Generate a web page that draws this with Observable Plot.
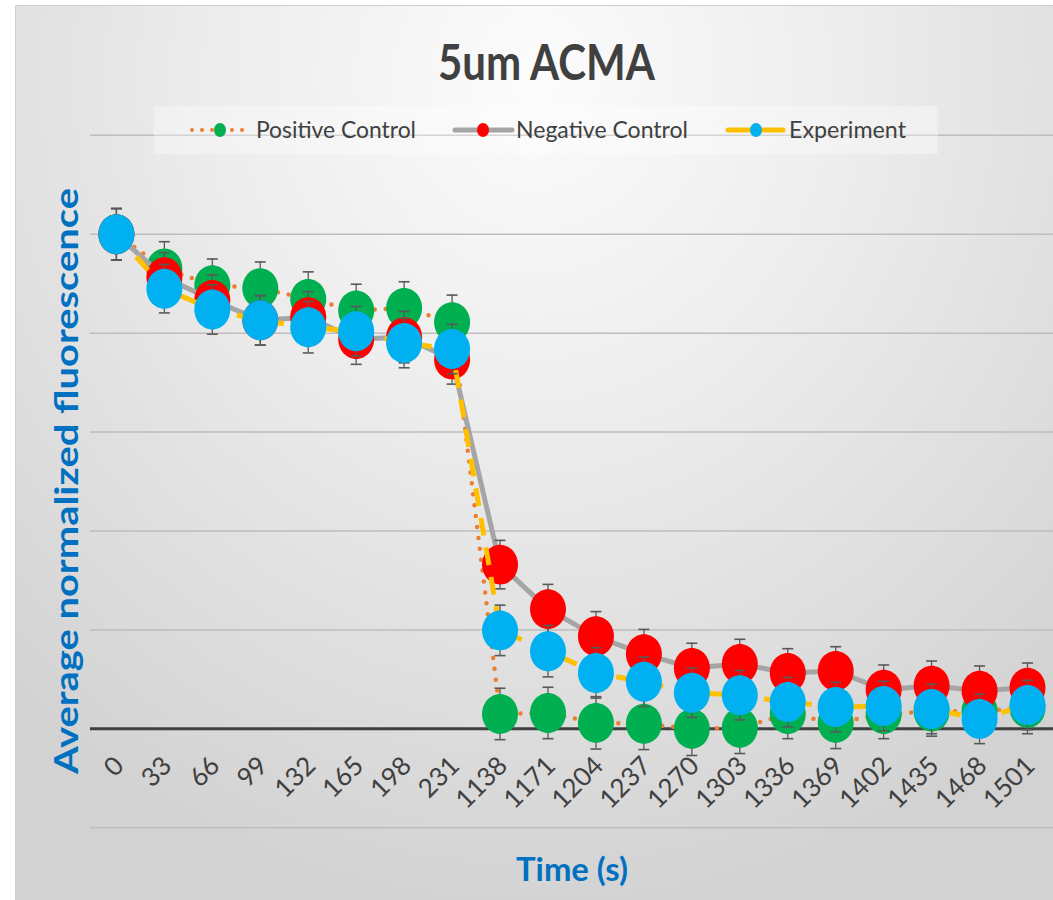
<!DOCTYPE html>
<html>
<head>
<meta charset="utf-8">
<script src="https://cdn.jsdelivr.net/npm/d3@7"></script>
<script src="https://cdn.jsdelivr.net/npm/@observablehq/plot@0.6"></script>
<style>
  html, body { margin: 0; padding: 0; background: #ffffff; }
  body { width: 1053px; height: 900px; position: relative; overflow: hidden; font-family: Lato, "Open Sans", sans-serif; }
  #frame {
    position: absolute; left: 15px; top: 5px; width: 1038px; height: 895px; overflow: hidden;
    background: radial-gradient(ellipse 75% 95% at 50% 8%, #fcfcfc 0%, #ededed 40%, #d2d2d2 100%);
    border-left: 1px solid #cfcfcf; border-top: 1px solid #cfcfcf; box-sizing: border-box;
  }
  #chart { position: absolute; left: 0; top: 0; }
  #overlay { position: absolute; left: 0; top: 0; pointer-events: none; }
</style>
</head>
<body>
<div id="frame">
  <div id="chart"></div>
  <svg id="overlay" width="1038" height="895"></svg>
</div>
<script>
// ---- data ----
const times = [0, 33, 66, 99, 132, 165, 198, 231, 1138, 1171, 1204, 1237, 1270, 1303, 1336, 1369, 1402, 1435, 1468, 1501];
const positiveControl = [1.000, 0.931, 0.897, 0.891, 0.869, 0.846, 0.851, 0.822, 0.030, 0.032, 0.012, 0.010, 0.000, 0.002, 0.030, 0.012, 0.030, 0.035, 0.036, 0.042];
const negativeControl = [1.000, 0.913, 0.867, 0.826, 0.832, 0.788, 0.792, 0.747, 0.332, 0.242, 0.187, 0.151, 0.123, 0.131, 0.113, 0.117, 0.079, 0.087, 0.077, 0.083];
const experiment      = [1.000, 0.890, 0.848, 0.826, 0.812, 0.804, 0.780, 0.768, 0.199, 0.157, 0.113, 0.095, 0.073, 0.068, 0.054, 0.044, 0.046, 0.040, 0.020, 0.048];
const positiveErr = [0.052, 0.054, 0.053, 0.053, 0.055, 0.053, 0.053, 0.055, 0.052, 0.052, 0.053, 0.052, 0.054, 0.052, 0.050, 0.052, 0.050, 0.050, 0.050, 0.052];
const negativeErr = [0.052, 0.050, 0.051, 0.050, 0.052, 0.051, 0.052, 0.050, 0.049, 0.050, 0.050, 0.050, 0.050, 0.050, 0.049, 0.049, 0.050, 0.050, 0.050, 0.050];
const experimentErr = [0.052, 0.049, 0.050, 0.050, 0.052, 0.050, 0.050, 0.050, 0.051, 0.052, 0.051, 0.050, 0.050, 0.050, 0.050, 0.050, 0.050, 0.050, 0.050, 0.050];
const gridValues = [-0.2, 0.2, 0.4, 0.6, 0.8, 1.0, 1.2];
const seriesNames = ["Positive Control", "Negative Control", "Experiment"];
const titleText = "5um ACMA";
const yTitle = "Average normalized fluorescence";
const xTitle = "Time (s)";

// ---- styles ----
const seriesStyles = [
  {marker: "#00B050", line: "#ED7D31", width: 4.5, dash: "0 11", cap: "round"},
  {marker: "#FF0000", line: "#A5A5A5", width: 5, dash: null, cap: "round"},
  {marker: "#00B0F0", line: "#FFC000", width: 5, dash: "18 12", cap: "butt"}
];
const seriesValues = [positiveControl, negativeControl, experiment];
const seriesErrs = [positiveErr, negativeErr, experimentErr];

// ellipse marker (the reference is stretched vertically)
const ellipse = {
  draw(ctx) {
    const rx = 18, ry = 20, k = 0.5523;
    ctx.moveTo(rx, 0);
    ctx.bezierCurveTo(rx, ry * k, rx * k, ry, 0, ry);
    ctx.bezierCurveTo(-rx * k, ry, -rx, ry * k, -rx, 0);
    ctx.bezierCurveTo(-rx, -ry * k, -rx * k, -ry, 0, -ry);
    ctx.bezierCurveTo(rx * k, -ry, rx, -ry * k, rx, 0);
    ctx.closePath();
  }
};
const capSymbol = {
  draw(ctx) { ctx.moveTo(-5.5, 0); ctx.lineTo(5.5, 0); }
};

const labels = times.map(String);
const marks = [
  Plot.ruleY(gridValues, {stroke: "#bdbdbd", strokeWidth: 1.5}),
  Plot.ruleY([0], {stroke: "#404040", strokeWidth: 3})
];

seriesValues.forEach((vals, s) => {
  const st = seriesStyles[s];
  const rows = labels.map((t, i) => ({t, v: vals[i], e: seriesErrs[s][i]}));
  marks.push(
    Plot.line(rows, {x: "t", y: "v", stroke: st.line, strokeWidth: st.width,
      strokeDasharray: st.dash, strokeLinecap: st.cap, strokeLinejoin: "round"}),
    Plot.ruleX(rows, {x: "t", y1: d => d.v - d.e, y2: d => d.v + d.e, stroke: "#595959", strokeWidth: 1.3}),
    Plot.dot(rows, {x: "t", y: d => d.v + d.e, symbol: capSymbol, r: 5, fill: "none", stroke: "#595959", strokeWidth: 1.6}),
    Plot.dot(rows, {x: "t", y: d => d.v - d.e, symbol: capSymbol, r: 5, fill: "none", stroke: "#595959", strokeWidth: 1.6}),
    Plot.dot(rows, {x: "t", y: "v", symbol: ellipse, r: 18, fill: st.marker, stroke: "none"})
  );
});

// category tick labels, rotated
marks.push(
  Plot.text(labels, {x: d => d, y: -0.066, text: d => d, rotate: -45, textAnchor: "end",
    dx: 3, fontSize: 26, fill: "#404040", fontFamily: "Lato, 'Open Sans', sans-serif"})
);

const chart = Plot.plot({
  width: 1038,
  height: 895,
  marginLeft: 74,
  marginRight: 0,
  marginTop: 129,
  marginBottom: 73,
  x: {type: "point", domain: labels, padding: 0.5, axis: null},
  y: {domain: [-0.2, 1.2], axis: null},
  style: {background: "transparent", overflow: "visible"},
  marks
});
document.getElementById("chart").appendChild(chart);

// ---- title, legend and axis titles ----
const ov = d3.select("#overlay");
const font = "Lato, 'Open Sans', sans-serif";
ov.append("text").attr("x", 422).attr("y", 74).attr("textLength", 217).attr("lengthAdjust", "spacingAndGlyphs")
  .attr("font-family", font).attr("font-size", 50).attr("font-weight", 700).attr("fill", "#404040").text(titleText);

// legend box
ov.append("rect").attr("x", 138).attr("y", 100).attr("width", 784).attr("height", 48)
  .attr("fill", "#ffffff").attr("fill-opacity", 0.35);
const legendItems = [
  {x1: 176, x2: 234, cx: 204, tx: 240, tl: 160},
  {x1: 439, x2: 496, cx: 467, tx: 500, tl: 172},
  {x1: 712, x2: 767, cx: 740, tx: 773, tl: 117}
];
legendItems.forEach((it, s) => {
  const st = seriesStyles[s];
  const ly = 124;
  ov.append("line").attr("x1", it.x1).attr("x2", it.x2).attr("y1", ly).attr("y2", ly)
    .attr("stroke", st.line).attr("stroke-width", s === 0 ? 4 : 5)
    .attr("stroke-dasharray", s === 0 ? "0 10" : null)
    .attr("stroke-linecap", "round");
  ov.append("ellipse").attr("cx", it.cx).attr("cy", ly).attr("rx", 6).attr("ry", 7).attr("fill", st.marker);
  ov.append("text").attr("x", it.tx).attr("y", 132).attr("textLength", it.tl).attr("lengthAdjust", "spacingAndGlyphs")
    .attr("font-family", font).attr("font-size", 23).attr("fill", "#404040").text(seriesNames[s]);
});

// y axis title
ov.append("text").attr("transform", "translate(62,475) rotate(-90)").attr("text-anchor", "middle")
  .attr("textLength", 586).attr("lengthAdjust", "spacingAndGlyphs")
  .attr("font-family", font).attr("font-size", 33).attr("font-weight", 700).attr("fill", "#0070C0").text(yTitle);
// x axis title
ov.append("text").attr("x", 500).attr("y", 875).attr("textLength", 112).attr("lengthAdjust", "spacingAndGlyphs")
  .attr("font-family", font).attr("font-size", 33).attr("font-weight", 700).attr("fill", "#0070C0").text(xTitle);
</script>
</body>
</html>
